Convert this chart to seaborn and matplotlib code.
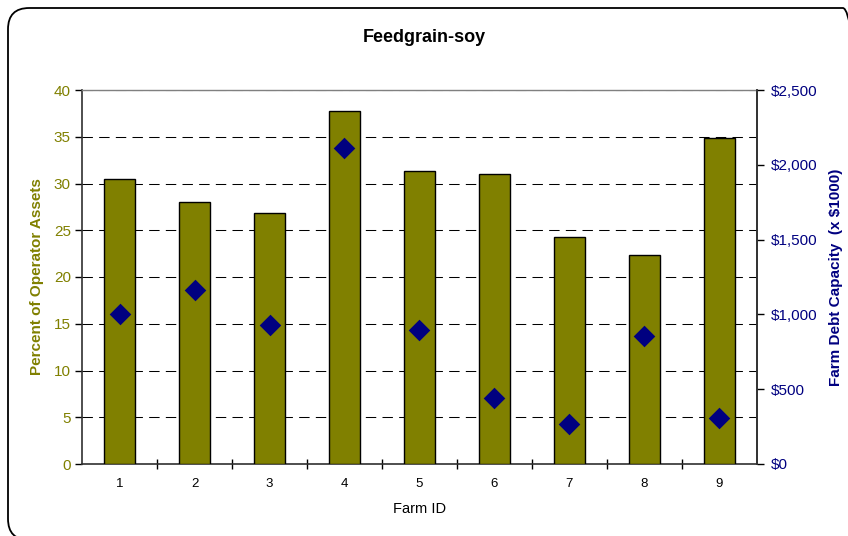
import matplotlib
matplotlib.use("Agg")
import matplotlib.pyplot as plt
from matplotlib.patches import FancyBboxPatch
from matplotlib.ticker import FuncFormatter, FixedLocator
import seaborn as sns
import pandas as pd

farm_ids = ["1", "2", "3", "4", "5", "6", "7", "8", "9"]
pct_operator_assets = [30.5, 28.0, 26.8, 37.75, 31.3, 31.05, 24.25, 22.4, 34.9]
debt_capacity = [1003, 1165, 929, 2112, 896, 441, 267, 856, 307]

OLIVE = "#808000"
NAVY = "#000080"

df = pd.DataFrame({"Farm ID": farm_ids,
                   "pct": pct_operator_assets,
                   "debt": debt_capacity})

sns.set_style("white")
plt.rcParams["font.family"] = ["Liberation Sans", "DejaVu Sans"]
plt.rcParams["text.color"] = "black"
plt.rcParams["axes.labelcolor"] = "black"

fig = plt.figure(figsize=(8.48, 5.36), dpi=100)
W, H = 848, 536
ax = fig.add_axes([82 / W, 1 - 464 / H, (757 - 82) / W, (464 - 90) / H])

sns.barplot(data=df, x="Farm ID", y="pct", color=OLIVE, saturation=1,
            width=0.41, edgecolor="black", linewidth=1.0, ax=ax, zorder=3)

ax.set_ylim(0, 40)
ax.set_xlim(-0.5, 8.5)
ax.set_yticks(range(0, 41, 5))
ax.yaxis.grid(True, color="black", linestyle=(0, (10, 6)), linewidth=0.75)
ax.set_axisbelow(True)
ax.tick_params(axis="y", direction="out", length=5, width=1, color="black",
               labelcolor=OLIVE, labelsize=11, pad=3, left=True)
ax.tick_params(axis="x", which="major", length=0, labelsize=9.5, pad=10,
               labelcolor="black")
ax.xaxis.set_minor_locator(FixedLocator([i + 0.5 for i in range(8)]))
ax.tick_params(axis="x", which="minor", direction="inout", length=7,
               width=1, color="black", bottom=True)
ax.set_xlabel("Farm ID", fontsize=10.5, labelpad=9, color="black")
ax.set_ylabel("Percent of Operator Assets", fontsize=11, fontweight="bold",
              color=OLIVE, labelpad=7)

for side in ["left", "bottom", "right"]:
    ax.spines[side].set_color("#303030")
    ax.spines[side].set_linewidth(1.2)
ax.spines["top"].set_color("#808080")
ax.spines["top"].set_linewidth(1.0)

ax2 = ax.twinx()
sns.stripplot(data=df, x="Farm ID", y="debt", color=NAVY, marker="D",
              size=11, jitter=False, linewidth=0, ax=ax2, zorder=5)
ax2.set_xlim(-0.5, 8.5)
ax2.set_ylim(0, 2500)
ax2.set_yticks(range(0, 2501, 500))
ax2.yaxis.set_major_formatter(FuncFormatter(lambda v, _: f"${v:,.0f}"))
ax2.tick_params(axis="y", direction="out", length=5, width=1, color="black",
                labelcolor=NAVY, labelsize=11, pad=5, right=True)
ax2.set_ylabel("Farm Debt Capacity  (x $1000)", fontsize=11,
               fontweight="bold", color=NAVY, labelpad=8)
ax2.set_xlabel("")
for side in ["left", "bottom", "top"]:
    ax2.spines[side].set_visible(False)
ax2.spines["right"].set_color("#303030")
ax2.spines["right"].set_linewidth(1.2)

fig.text(424 / W, 1 - 37 / H, "Feedgrain-soy", ha="center", va="center",
         fontsize=13, fontweight="bold", color="black")

border = FancyBboxPatch((8 / W, -4 / H), (856 / W), (532 / H),
                        boxstyle="round,pad=0,rounding_size=0.025",
                        transform=fig.transFigure, fill=False,
                        edgecolor="black", linewidth=1.3, mutation_aspect=W / H)
fig.patches.append(border)

fig.savefig("out.png", dpi=100)
